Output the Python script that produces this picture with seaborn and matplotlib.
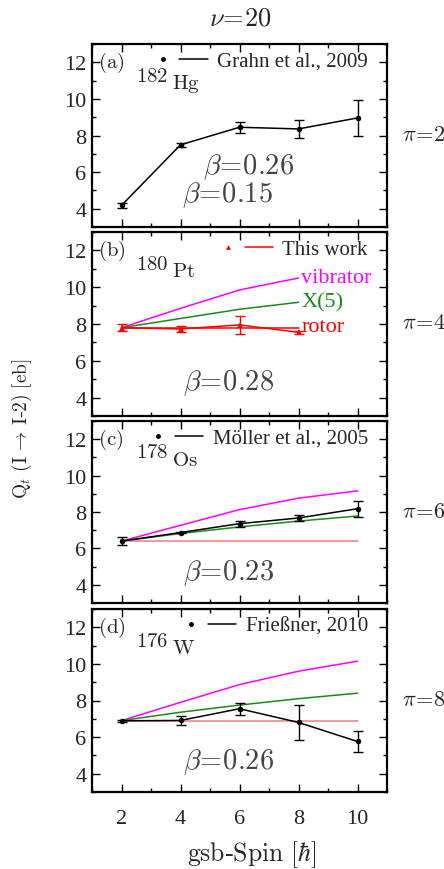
import numpy as np
import pandas as pd
import matplotlib
matplotlib.use("Agg")
import matplotlib.pyplot as plt
import seaborn as sns
from matplotlib.lines import Line2D
from matplotlib.legend_handler import HandlerTuple
from matplotlib.ticker import MultipleLocator

# ---------------- data ----------------
spin = [2, 4, 6, 8, 10]
spin_pt = [2, 4, 6, 8]

hg_q = [4.18, 7.49, 8.45, 8.36, 8.96]
hg_err = [0.15, 0.12, 0.30, 0.50, 1.00]

pt_q = [7.80, 7.73, 7.95, 7.55]
pt_err = [0.20, 0.17, 0.47, 0.07]
pt_vib = [7.80, 8.85, 9.85, 10.50]
pt_x5 = [7.80, 8.30, 8.80, 9.18]
pt_rot = [7.80, 7.80, 7.80, 7.80]

os_q = [6.40, 6.87, 7.36, 7.67, 8.18]
os_err = [0.22, 0.05, 0.17, 0.15, 0.45]
os_vib = [6.40, 7.27, 8.13, 8.76, 9.16]
os_x5 = [6.40, 6.82, 7.18, 7.50, 7.78]
os_rot = [6.40, 6.40, 6.40, 6.40, 6.40]

w_q = [6.89, 6.91, 7.55, 6.80, 5.76]
w_err = [0.07, 0.23, 0.33, 0.96, 0.57]
w_vib = [6.90, 7.90, 8.87, 9.60, 10.15]
w_x5 = [6.90, 7.36, 7.75, 8.10, 8.40]
w_rot = [6.90, 6.90, 6.90, 6.90, 6.90]

x_ticks = [2, 4, 6, 8, 10]
y_ticks = [4, 6, 8, 10, 12]

panels = [
    dict(tag="(a)", mass="182", elem="Hg", ref="Grahn et al., 2009", x=spin, q=hg_q, err=hg_err,
         vib=None, x5=None, rot=None, color="black", marker="o", betas=[("0.26", 6.3, 6.3), ("0.15", 5.6, 4.78)],
         pi="2", model_labels=False),
    dict(tag="(b)", mass="180", elem="Pt", ref="This work", x=spin_pt, q=pt_q, err=pt_err,
         vib=pt_vib, x5=pt_x5, rot=pt_rot, color="#ff0000", marker="^", betas=[("0.28", 5.63, 4.83)],
         pi="4", model_labels=True),
    dict(tag="(c)", mass="178", elem="Os", ref="Möller et al., 2005", x=spin, q=os_q, err=os_err,
         vib=os_vib, x5=os_x5, rot=os_rot, color="black", marker="o", betas=[("0.23", 5.63, 4.72)],
         pi="6", model_labels=False),
    dict(tag="(d)", mass="176", elem="W", ref="Frießner, 2010", x=spin, q=w_q, err=w_err,
         vib=w_vib, x5=w_x5, rot=w_rot, color="black", marker="o", betas=[("0.26", 5.63, 4.68)],
         pi="8", model_labels=False),
]

# ---------------- style ----------------
sns.set_theme(style="ticks")
plt.rcParams["font.family"] = ["Liberation Serif", "DejaVu Serif"]
plt.rcParams["mathtext.fontset"] = "cm"

W, H = 444, 870
fig = plt.figure(figsize=(W / 100, H / 100), dpi=100)

left, right = 92, 387
boxes = [(45, 228), (233, 417), (422, 604), (610, 793)]

MAG = "#ff00ff"
GRN = "#1a8a1a"

for i, (p, (top, bot)) in enumerate(zip(panels, boxes)):
    ax = fig.add_axes([left / W, 1 - bot / H, (right - left) / W, (bot - top) / H])
    ax.set_xlim(1, 11)
    ax.set_ylim(3, 13)

    rot_col = "#ff0000" if p["model_labels"] else "#f07a7a"
    if p["vib"] is not None:
        sns.lineplot(x=p["x"], y=p["vib"], ax=ax, color=MAG, lw=1.1, legend=False)
        sns.lineplot(x=p["x"], y=p["x5"], ax=ax, color=GRN, lw=1.1, legend=False)
        sns.lineplot(x=p["x"], y=p["rot"], ax=ax, color=rot_col, lw=1.1, legend=False)

    df = pd.DataFrame({"spin": p["x"], "Q": p["q"], "err": p["err"]})
    ax.errorbar(df["spin"], df["Q"], yerr=df["err"], fmt="none", ecolor=p["color"],
                elinewidth=1.0, capsize=3.5, capthick=1.0, zorder=4)
    sns.lineplot(data=df, x="spin", y="Q", ax=ax, color=p["color"], lw=1.1,
                 marker=p["marker"], markersize=4 if p["marker"] == "o" else 4.5,
                 markeredgewidth=0, legend=False, zorder=5)

    # legend
    h_mark = Line2D([], [], color=p["color"], marker=p["marker"], ls="none",
                    markersize=3.5, markeredgewidth=0)
    h_line = Line2D([], [], color=p["color"], lw=1.1)
    ax.legend([(h_mark, h_line)], [p["ref"]],
              handler_map={tuple: HandlerTuple(ndivide=None, pad=0.12)},
              loc="upper right", bbox_to_anchor=(0.935, 0.96), frameon=False,
              fontsize=15, handlelength=2.85, handletextpad=0.45,
              borderpad=0, borderaxespad=0)

    # labels inside
    ax.text(1.2, 12.0, r"$\mathrm{" + p["tag"] + "}$", fontsize=15, va="center", ha="left")
    ax.text(2.5, 11.25, r"$\mathrm{" + p["mass"] + "}$", fontsize=15, va="center", ha="left")
    ax.text(3.72, 10.85, r"$\mathrm{" + p["elem"] + "}$", fontsize=15, va="center", ha="left")
    for val, bx, by in p["betas"]:
        ax.text(bx, by, r"$\beta\!=\!" + val + "$", fontsize=20.5, color="#444444",
                ha="center", va="center")
    if p["model_labels"]:
        ax.text(8.1, 10.5, "vibrator", color=MAG, fontsize=16, ha="left", va="center")
        ax.text(8.1, 9.23, "X(5)", color=GRN, fontsize=16, ha="left", va="center")
        ax.text(8.1, 7.88, "rotor", color="#ff0000", fontsize=16, ha="left", va="center")

    ax.text(1.05, 0.5, r"$\pi\!=\!" + p["pi"] + "$", transform=ax.transAxes,
            fontsize=16, ha="left", va="center")

    # axes cosmetics
    ax.set_xticks(x_ticks)
    ax.set_yticks(y_ticks)
    ax.xaxis.set_minor_locator(MultipleLocator(1))
    ax.yaxis.set_minor_locator(MultipleLocator(1))
    ax.tick_params(which="both", direction="in", top=True, right=True, width=1.0, color="black")
    ax.tick_params(which="major", length=6)
    ax.tick_params(which="minor", length=3)
    ax.tick_params(axis="y", labelsize=16, pad=4)
    ax.tick_params(axis="x", labelsize=16, pad=12)
    for s in ax.spines.values():
        s.set_linewidth(1.6)
        s.set_color("black")
    ax.set_xlabel("")
    ax.set_ylabel("")
    if i < 3:
        ax.tick_params(axis="x", labelbottom=False)
    ax.grid(False)

fig.text(240 / W, 1 - 20 / H, r"$\nu\!=\!20$", fontsize=19, ha="center", va="center")
fig.text(22 / W, 1 - 429 / H, r"$\mathrm{Q}_t\ (\mathrm{I}\,\rightarrow\,\mathrm{I}$-$\mathrm{2})\ [\mathrm{eb}]$",
         fontsize=14, rotation=90, ha="center", va="center")
fig.text(252 / W, 1 - 855 / H, r"$\mathrm{gsb}$-$\mathrm{Spin}\ [\hbar]$", fontsize=18.5,
         ha="center", va="center")

fig.savefig("out.png", dpi=100)
